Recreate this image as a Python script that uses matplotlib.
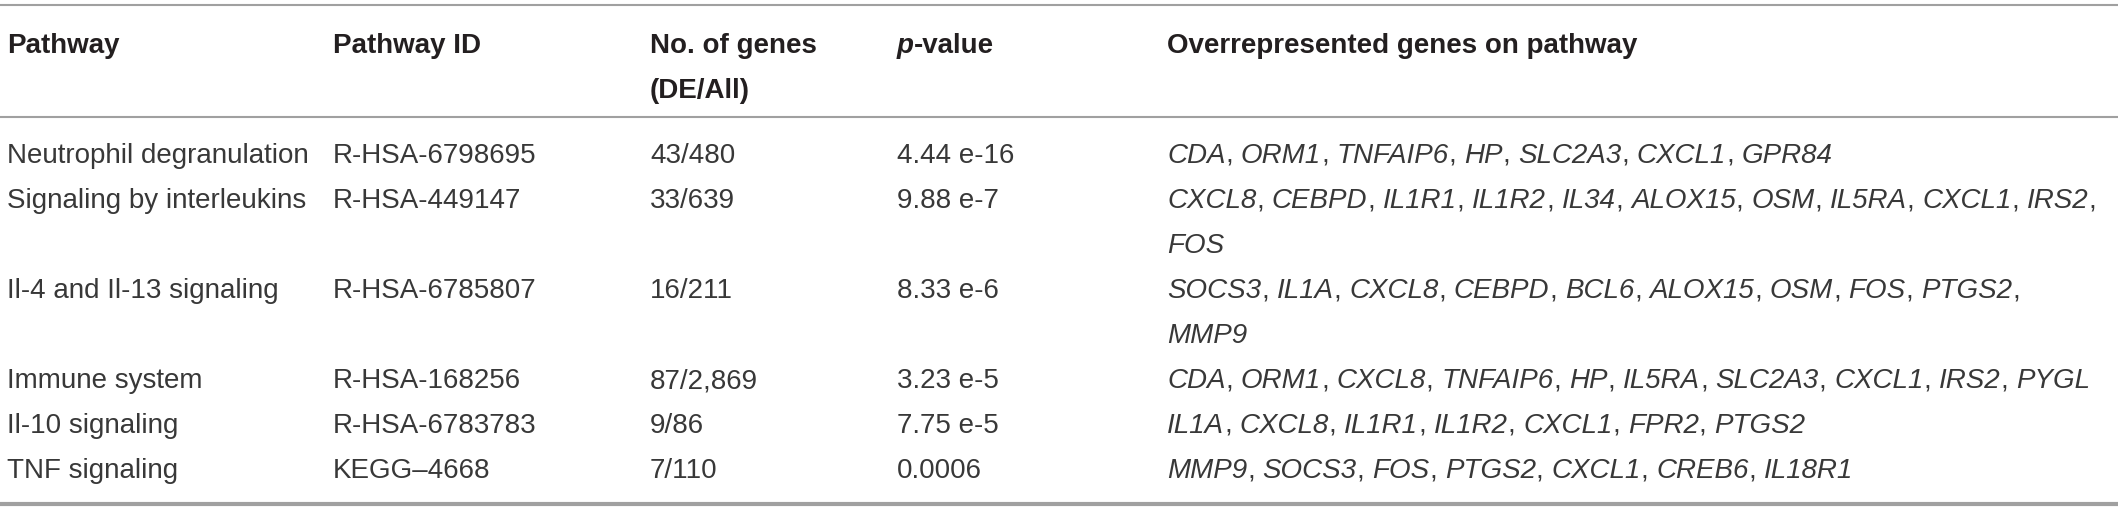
import matplotlib
matplotlib.use('Agg')
import matplotlib.pyplot as plt

# Table content
headers = ['Pathway', 'Pathway ID', 'No. of genes\n(DE/All)', 'p-value',
           'Overrepresented genes on pathway']
pathways = ['Neutrophil degranulation', 'Signaling by interleukins',
            'Il-4 and Il-13 signaling', 'Immune system', 'Il-10 signaling',
            'TNF signaling']
pathway_ids = ['R-HSA-6798695', 'R-HSA-449147', 'R-HSA-6785807',
               'R-HSA-168256', 'R-HSA-6783783', 'KEGG\u20134668']
n_genes = ['43/480', '33/639', '16/211', '87/2,869', '9/86', '7/110']
p_values = ['4.44 e-16', '9.88 e-7', '8.33 e-6', '3.23 e-5', '7.75 e-5', '0.0006']
# each row: list of wrapped lines, each line a list of gene names
genes = [
    [['CDA', 'ORM1', 'TNFAIP6', 'HP', 'SLC2A3', 'CXCL1', 'GPR84']],
    [['CXCL8', 'CEBPD', 'IL1R1', 'IL1R2', 'IL34', 'ALOX15', 'OSM', 'IL5RA',
      'CXCL1', 'IRS2'], ['FOS']],
    [['SOCS3', 'IL1A', 'CXCL8', 'CEBPD', 'BCL6', 'ALOX15', 'OSM', 'FOS',
      'PTGS2'], ['MMP9']],
    [['CDA', 'ORM1', 'CXCL8', 'TNFAIP6', 'HP', 'IL5RA', 'SLC2A3', 'CXCL1',
      'IRS2', 'PYGL']],
    [['IL1A', 'CXCL8', 'IL1R1', 'IL1R2', 'CXCL1', 'FPR2', 'PTGS2']],
    [['MMP9', 'SOCS3', 'FOS', 'PTGS2', 'CXCL1', 'CREB6', 'IL18R1']],
]

# Layout (pixels)
W, H = 2118, 509
col_x = [7, 333, 650, 897, 1167]
line_h = 45
head_base = 53
body_base = 163
FS = 20
HEAD = '#231f20'
TXT = '#383838'
RULE = '#a0a0a0'

plt.rcParams['font.family'] = ['Liberation Sans', 'DejaVu Sans']

fig = plt.figure(figsize=(W / 100, H / 100), dpi=100)
ax = fig.add_axes([0, 0, 1, 1])
ax.set_xlim(0, W)
ax.set_ylim(H, 0)
ax.axis('off')
renderer = fig.canvas.get_renderer()


def text_width(s, **kw):
    t = ax.text(0, 0, s, fontsize=FS, **kw)
    w = t.get_window_extent(renderer).width
    t.remove()
    return w


space_w = text_width('x x') - text_width('xx')

# rules
ax.axhline(5, color=RULE, lw=1.5)
ax.axhline(117, color=RULE, lw=1.5)
ax.axhline(504, color=RULE, lw=3)

# header
for x, h in zip(col_x, headers):
    if h == 'p-value':
        ax.text(x, head_base, 'p', fontsize=FS, fontweight='bold',
                fontstyle='italic', color=HEAD, va='baseline')
        pw = text_width('p', fontweight='bold', fontstyle='italic')
        ax.text(x + pw, head_base, '-value', fontsize=FS, fontweight='bold',
                color=HEAD, va='baseline')
        continue
    for k, part in enumerate(h.split('\n')):
        ax.text(x, head_base + k * line_h, part, fontsize=FS,
                fontweight='bold', color=HEAD, va='baseline')

# body
line = 0
for i in range(len(pathways)):
    y = body_base + line * line_h
    for x, s in zip(col_x[:4], [pathways[i], pathway_ids[i], n_genes[i], p_values[i]]):
        ax.text(x, y, s, fontsize=FS, color=TXT, va='baseline')
    n_lines = len(genes[i])
    for k, gl in enumerate(genes[i]):
        gx = col_x[4]
        gy = y + k * line_h
        for j, g in enumerate(gl):
            ax.text(gx, gy, g, fontsize=FS, fontstyle='italic', color=TXT,
                    va='baseline')
            gx += text_width(g, fontstyle='italic')
            last = (k == n_lines - 1) and (j == len(gl) - 1)
            if not last:
                ax.text(gx, gy, ',', fontsize=FS, color=TXT, va='baseline')
                gx += text_width(',') + space_w
    line += n_lines

fig.savefig('out.png', dpi=100, facecolor='white')
